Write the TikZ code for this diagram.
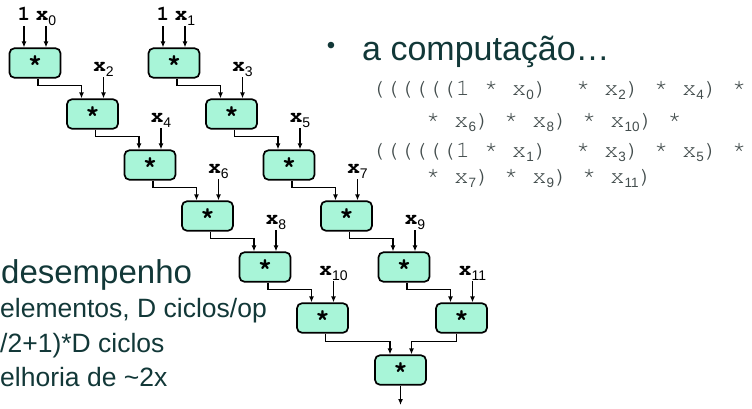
\documentclass[tikz,border=0pt]{standalone}
\usepackage{fontspec}
\setmainfont{Liberation Sans}
\newfontfamily\monof{TeX Gyre Cursor}
\usetikzlibrary{arrows.meta}
\definecolor{boxfill}{HTML}{A8F5D8}
\definecolor{slatetxt}{HTML}{123838}
\definecolor{codegray}{HTML}{434D4D}
\newcommand\xl[1]{{\monof\bfseries\fontsize{21}{21}\selectfont x}\raisebox{-5pt}{\fontsize{14}{14}\selectfont #1}}
\newcommand\cs[1]{\raisebox{-4.5pt}{\rmfamily\fontsize{13.5}{13.5}\selectfont #1}}
\tikzset{
  mult/.style={draw=black, line width=1.7pt, fill=boxfill, rounded corners=5pt,
    minimum width=51pt, minimum height=29.5pt, inner sep=0pt,
    font=\monof\bfseries\fontsize{24}{24}\selectfont},
  wire/.style={line width=1.3pt, -{Latex[length=6pt,width=5pt]}},
  xlab/.style={anchor=base, inner sep=0pt},
  code/.style={anchor=base west, inner sep=0pt, text=codegray,
    font=\monof\fontsize{23.5}{23.5}\selectfont},
  big/.style={anchor=base west, inner sep=0pt, text=slatetxt},
}
\begin{document}
\begin{tikzpicture}[x=1pt,y=-1pt]
\useasboundingbox (0,0) rectangle (752,408);
\clip (0,0) rectangle (752,408);
% multiplier boxes
\foreach \k in {0,...,5} {
  \pgfmathsetmacro\cx{35+57.5*\k}
  \pgfmathsetmacro\cy{63+51*\k}
  \node[mult] (L\k) at (\cx,\cy) {*};
  \node[mult] (R\k) at (\cx+139,\cy) {*};
}
\node[mult] (F) at (400.5,370) {*};
% first inputs
\coordinate (i1L) at ([xshift=-11pt,yshift=21pt]L0.north);
\coordinate (i0L) at ([xshift=11pt,yshift=21pt]L0.north);
\coordinate (i1R) at ([xshift=-11pt,yshift=21pt]R0.north);
\coordinate (i0R) at ([xshift=11pt,yshift=21pt]R0.north);
\node[xlab, font=\monof\bfseries\fontsize{21}{21}\selectfont] (one0) at ([yshift=6pt]i1L) {1};
\node[xlab] (x0) at ([yshift=6pt]i0L) {\xl{0}};
\node[xlab, font=\monof\bfseries\fontsize{21}{21}\selectfont] (one1) at ([yshift=6pt]i1R) {1};
\node[xlab] (x1) at ([yshift=6pt]i0R) {\xl{1}};
\draw[wire] (i1L) -- (i1L |- L0.north);
\draw[wire] (i0L) -- (i0L |- L0.north);
\draw[wire] (i1R) -- (i1R |- R0.north);
\draw[wire] (i0R) -- (i0R |- R0.north);
% further inputs
\foreach \k/\a/\b in {1/2/3,2/4/5,3/6/7,4/8/9,5/10/11} {
  \coordinate (ia\k) at ([xshift=11pt,yshift=21pt]L\k.north);
  \node[xlab] (la\k) at ([yshift=5.5pt]ia\k) {\xl{\a}};
  \draw[wire] (ia\k) -- (ia\k |- L\k.north);
  \coordinate (ib\k) at ([xshift=11pt,yshift=21pt]R\k.north);
  \node[xlab] (lb\k) at ([yshift=5.5pt]ib\k) {\xl{\b}};
  \draw[wire] (ib\k) -- (ib\k |- R\k.north);
}
% chain connectors
\foreach \k [evaluate=\k as \n using int(\k+1)] in {0,...,4} {
  \draw[wire] ([xshift=3pt]L\k.south) -- ++(0,7) -| ([xshift=-11pt]L\n.north);
  \draw[wire] ([xshift=3pt]R\k.south) -- ++(0,7) -| ([xshift=-11pt]R\n.north);
}
\draw[wire] ([xshift=3pt]L5.south) -- ++(0,8) -| ([xshift=-10.5pt]F.north);
\draw[wire] ([xshift=-5pt]R5.south) -- ++(0,8) -| ([xshift=11pt]F.north);
\coordinate (out) at (400.5,405);
\draw[wire] (F.south) -- (out);
% right text
\node[inner sep=0pt, text=slatetxt, font=\fontsize{24}{24}\selectfont] (bul) at (331,48) {•};
\node[big, font=\fontsize{34}{34}\selectfont] (comp) at (362,60) {a computação…};
\node[code] (c1) at (371,95) {((((((1 * x\cs{0})~~* x\cs{2}) * x\cs{4}) *};
\node[code] (c2) at (426,127) {* x\cs{6}) * x\cs{8}) * x\cs{10}) *};
\node[code] (c3) at (371,157) {((((((1 * x\cs{1})~~* x\cs{3}) * x\cs{5}) *};
\node[code] (c4) at (426,183) {* x\cs{7}) * x\cs{9}) * x\cs{11})};
% left text
\node[big, font=\fontsize{33}{33}\selectfont] (des) at (1,283) {desempenho};
\node[big, font=\fontsize{26.5}{26.5}\selectfont] (t1) at (0,317) {elementos, D ciclos/op};
\node[big, font=\fontsize{26.5}{26.5}\selectfont] (t2) at (0,352) {/2+1)*D ciclos};
\node[big, font=\fontsize{26.5}{26.5}\selectfont] (t3) at (0,386) {elhoria de \textasciitilde 2x};
\end{tikzpicture}
\end{document}
